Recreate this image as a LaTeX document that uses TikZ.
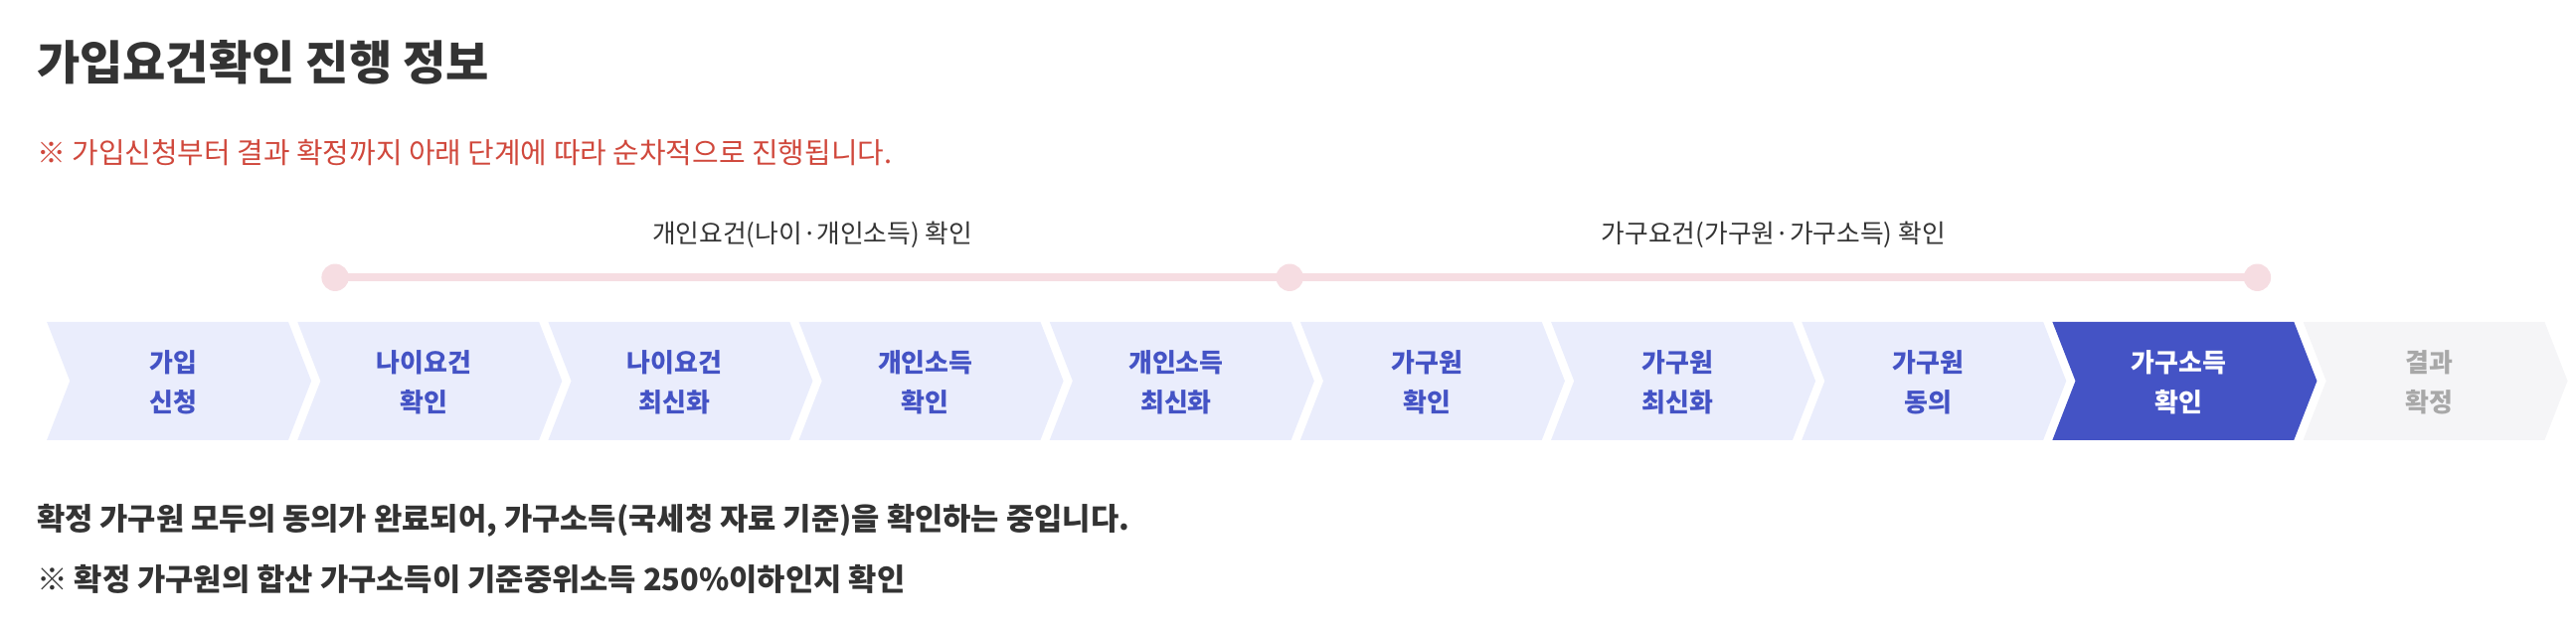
\documentclass[tikz,border=0pt]{standalone}
\usepackage{fontspec}
\setmainfont{Noto Sans CJK KR}
\usetikzlibrary{calc}
\definecolor{titlegray}{HTML}{333333}
\definecolor{noticered}{HTML}{D0483C}
\definecolor{trackpink}{HTML}{F6DDE2}
\definecolor{steplight}{HTML}{EAEDFC}
\definecolor{stepblue}{HTML}{4453C5}
\definecolor{stepdone}{HTML}{F5F5F7}
\definecolor{donegray}{HTML}{A8A8A8}
\tikzset{
  stepbox/.style={fill=steplight},
  steptext/.style={font=\fontsize{7.85}{12}\selectfont\bfseries,text=stepblue,align=center,inner sep=0pt},
  phase/.style={font=\fontsize{7.8}{9}\selectfont,text=titlegray,inner sep=0pt},
}
\newcommand{\chevron}[1]{(#1,196) -- ++(147,0) -- ++(14,36) -- ++(-14,36) -- ++(-147,0) -- ++(14,-36) -- cycle}
\begin{document}
\begin{tikzpicture}[x=0.5pt,y=-0.5pt]
\useasboundingbox (0,0) rectangle (1568,384);
% heading
\node[anchor=west,inner sep=0pt,text=titlegray,font=\fontsize{14.25}{18}\selectfont\bfseries] (title) at (22,38) {가입요건확인 진행 정보};
\node[anchor=west,inner sep=0pt,text=noticered,font=\fontsize{8.75}{10}\selectfont] (notice) at (22,93) {※ 가입신청부터 결과 확정까지 아래 단계에 따라 순차적으로 진행됩니다.};
% phase track
\coordinate (p1) at (204,169);
\coordinate (p2) at (785,169);
\coordinate (p3) at (1374,169);
\draw[trackpink,line width=2.4pt] (p1) -- (p3);
\foreach \p in {p1,p2,p3}
  \fill[trackpink] (\p) circle (8.3);
\node[phase] (personal) at ($(p1)!0.5!(p2)+(0,-26)$) {개인요건(나이·개인소득) 확인};
\node[phase] (household) at ($(p2)!0.5!(p3)+(0,-26)$) {가구요건(가구원·가구소득) 확인};
% steps
\foreach \lab [count=\i] in {{가입\\신청},{나이요건\\확인},{나이요건\\최신화},{개인소득\\확인},{개인소득\\최신화},{가구원\\확인},{가구원\\최신화},{가구원\\동의}}{
  \pgfmathsetmacro{\L}{28.5+152.6*(\i-1)}
  \fill[stepbox] \chevron{\L};
  \node[steptext] (step\i) at (\L+77,233) {\lab};
}
\fill[stepblue] \chevron{1249.3};
\node[steptext,text=white] (step9) at (1326.3,233) {가구소득\\확인};
\fill[stepdone] \chevron{1401.9};
\node[steptext,text=donegray] (step10) at (1478.9,233) {결과\\확정};
% status
\node[anchor=west,inner sep=0pt,text=titlegray,font=\fontsize{9.3}{10}\selectfont\bfseries] (status) at (22,317) {확정 가구원 모두의 동의가 완료되어, 가구소득(국세청 자료 기준)을 확인하는 중입니다.};
\node[anchor=west,inner sep=0pt,text=titlegray,font=\fontsize{9.3}{10}\selectfont\bfseries] (rule) at (22,353) {※ 확정 가구원의 합산 가구소득이 기준중위소득 250\%이하인지 확인};
\end{tikzpicture}
\end{document}
